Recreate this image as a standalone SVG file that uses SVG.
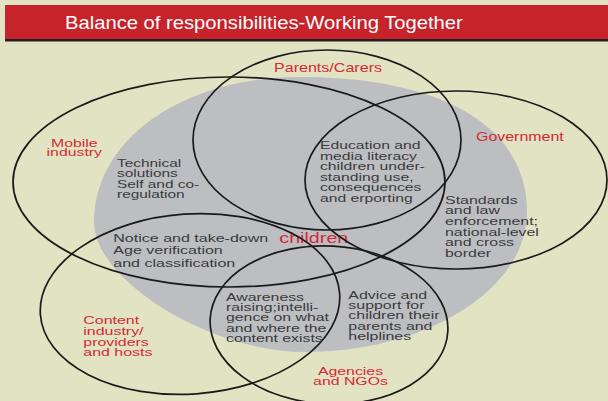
<svg xmlns="http://www.w3.org/2000/svg" width="608" height="401" viewBox="0 0 608 401">
<style>
.ring{fill:none;stroke:#1a1a1a;stroke-width:1.7}
.t{font-family:"Liberation Sans",Arial,Helvetica,sans-serif;font-size:11px;fill:#3a3a3c}
.r{font-family:"Liberation Sans",Arial,Helvetica,sans-serif;font-size:11px;fill:#d42a35}
.m{text-anchor:middle}
</style>
<rect width="608" height="401" fill="#e2e3c3"/>
<g id="title">
<rect x="5" y="5" width="603" height="35" fill="#c6232b"/>
<rect x="5" y="39" width="603" height="2.5" fill="#231f20"/>
<g transform="translate(65,0) scale(1.155,1)"><text x="0" y="29.3" font-family="Liberation Sans, Arial, sans-serif" font-size="17.5" fill="#ffffff">Balance of responsibilities-Working Together</text></g>
</g>
<g id="children">
<path d="M300,77 C443,77 527,127 527,212 C527,289 427,352 305,352 C210,352 94,280.5 94,222 C94,139.4 182.6,77 300,77 Z" fill="#bdbec2"/>
<g transform="translate(279.3,0) scale(1.36,1)"><text class="r" x="0" y="243.3" style="font-size:14.5px">children</text></g>
</g>
<g id="mobile">
<ellipse class="ring" cx="229" cy="182" rx="216" ry="105"/>
<g transform="translate(74.3,0) scale(1.44,1)"><text class="r m"><tspan x="0" y="147">Mobile</tspan><tspan x="0" y="156.5">industry</tspan></text></g>
</g>
<g id="parents">
<ellipse class="ring" cx="327" cy="140" rx="134" ry="90"/>
<g transform="translate(274,0) scale(1.34,1)"><text class="r" x="0" y="72.3" style="font-size:12px">Parents/Carers</text></g>
</g>
<g id="government">
<ellipse class="ring" cx="456" cy="180" rx="151" ry="89"/>
<g transform="translate(476,0) scale(1.33,1)"><text class="r" x="0" y="141" style="font-size:12px">Government</text></g>
</g>
<g id="content">
<ellipse class="ring" cx="190" cy="304" rx="150" ry="90" transform="rotate(-4 190 304)"/>
<g transform="translate(83.3,0) scale(1.45,1)"><text class="r"><tspan x="0" y="324.3">Content</tspan><tspan x="0" y="334.8">industry/</tspan><tspan x="0" y="345.6">providers</tspan><tspan x="0" y="356.3">and hosts</tspan></text></g>
</g>
<g id="agencies">
<ellipse class="ring" cx="329" cy="325" rx="119" ry="79" transform="rotate(3 329 325)"/>
<g transform="translate(350.5,0) scale(1.44,1)"><text class="r m"><tspan x="0" y="375">Agencies</tspan><tspan x="0" y="385">and NGOs</tspan></text></g>
</g>
<g id="technical">
<g transform="translate(117,0) scale(1.4,1)"><text class="t"><tspan x="0" y="167">Technical</tspan><tspan x="0" y="177.5">solutions</tspan><tspan x="0" y="188">Self and co-</tspan><tspan x="0" y="198.5">regulation</tspan></text></g>
</g>
<g id="education">
<g transform="translate(320,0) scale(1.43,1)"><text class="t"><tspan x="0" y="149.3">Education and</tspan><tspan x="0" y="159.8">media literacy</tspan><tspan x="0" y="170.3">children under-</tspan><tspan x="0" y="180.8">standing use,</tspan><tspan x="0" y="191.3">consequences</tspan><tspan x="0" y="201.8">and erporting</tspan></text></g>
</g>
<g id="standards">
<g transform="translate(445,0) scale(1.45,1)"><text class="t"><tspan x="0" y="204">Standards</tspan><tspan x="0" y="214.5">and law</tspan><tspan x="0" y="225">enforcement;</tspan><tspan x="0" y="235.6">national-level</tspan><tspan x="0" y="246.1">and cross</tspan><tspan x="0" y="256.6">border</tspan></text></g>
</g>
<g id="notice">
<g transform="translate(113.3,0) scale(1.37,1)"><text class="t" style="font-size:11.7px"><tspan x="0" y="241.7">Notice and take-down</tspan><tspan x="0" y="254.5">Age verification</tspan><tspan x="0" y="267.3">and classification</tspan></text></g>
</g>
<g id="awareness">
<g transform="translate(226,0) scale(1.44,1)"><text class="t"><tspan x="0" y="300.7">Awareness</tspan><tspan x="0" y="311">raising;intelli-</tspan><tspan x="0" y="321.3">gence on what</tspan><tspan x="0" y="331.6">and where the</tspan><tspan x="0" y="341.9">content exists</tspan></text></g>
</g>
<g id="advice">
<g transform="translate(348.3,0) scale(1.45,1)"><text class="t"><tspan x="0" y="298.6">Advice and</tspan><tspan x="0" y="309">support for</tspan><tspan x="0" y="319.4">children their</tspan><tspan x="0" y="329.8">parents and</tspan><tspan x="0" y="340.2">helplines</tspan></text></g>
</g>
</svg>
